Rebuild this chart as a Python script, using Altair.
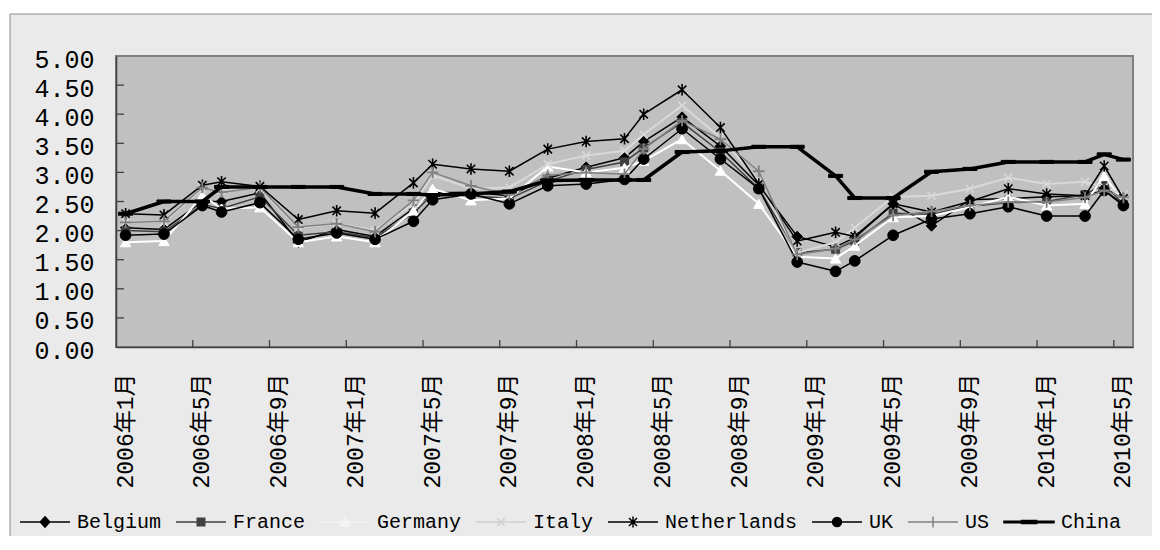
import altair as alt
import pandas as pd

# ---------------- categories (x axis) ----------------
years = [2006, 2007, 2008, 2009, 2010]
months = [f"{y}年{m}月" for y in years for m in range(1, 13)][:53]   # 2006年1月 ... 2010年5月
label_months = months[::4]
tick_months = months[4::4]

# month position (index into `months`) of every observation
obs_index = [0, 2, 4, 5, 7, 9, 11, 13, 15, 16, 18, 20, 22, 24, 26, 27, 29, 31, 33,
             35, 37, 38, 40, 42, 44, 46, 48, 50, 51, 52]

# ---------------- series values ----------------
belgium     = [2.05, 2.02, 2.50, 2.50, 2.65, 1.80, 2.02, 1.90, 2.38, 2.65, 2.66, 2.60, 2.90, 3.09, 3.25,
               3.53, 3.95, 3.45, 2.78, 1.90, 1.72, 1.88, 2.46, 2.08, 2.53, 2.55, 2.58, 2.60, 2.69, 2.45]
france      = [2.00, 1.98, 2.45, 2.38, 2.58, 1.92, 1.98, 1.88, 2.30, 2.62, 2.60, 2.55, 2.85, 3.05, 3.18,
               3.42, 3.86, 3.35, 2.72, 1.62, 1.68, 1.82, 2.30, 2.28, 2.42, 2.48, 2.50, 2.62, 2.80, 2.45]
germany     = [1.80, 1.82, 2.60, 2.38, 2.40, 1.80, 1.90, 1.80, 2.34, 2.72, 2.52, 2.55, 3.10, 3.00, 3.08,
               3.20, 3.57, 3.03, 2.46, 1.55, 1.52, 1.74, 2.23, 2.25, 2.40, 2.58, 2.43, 2.46, 2.94, 2.50]
italy       = [2.15, 2.15, 2.72, 2.70, 2.72, 2.05, 2.12, 2.00, 2.45, 2.95, 2.72, 2.74, 3.14, 3.29, 3.37,
               3.65, 4.15, 3.60, 2.85, 1.62, 1.80, 2.05, 2.58, 2.60, 2.72, 2.91, 2.80, 2.84, 2.75, 2.62]
netherlands = [2.29, 2.27, 2.78, 2.84, 2.76, 2.19, 2.34, 2.30, 2.82, 3.14, 3.06, 3.02, 3.40, 3.53, 3.58,
               4.00, 4.42, 3.77, 2.80, 1.82, 1.97, 1.90, 2.46, 2.32, 2.50, 2.72, 2.63, 2.60, 3.11, 2.55]
uk          = [1.92, 1.94, 2.43, 2.32, 2.48, 1.85, 1.96, 1.85, 2.16, 2.53, 2.63, 2.46, 2.77, 2.80, 2.88,
               3.23, 3.75, 3.23, 2.72, 1.46, 1.30, 1.48, 1.92, 2.20, 2.29, 2.41, 2.25, 2.25, 2.69, 2.43]
us          = [2.14, 2.16, 2.74, 2.66, 2.74, 2.06, 2.12, 1.98, 2.52, 3.00, 2.77, 2.62, 2.95, 3.00, 2.97,
               3.40, 3.89, 3.57, 3.02, 1.59, 1.69, 1.85, 2.26, 2.33, 2.43, 2.49, 2.49, 2.57, 2.69, 2.57]
china       = [2.29, 2.50, 2.50, 2.75, 2.75, 2.75, 2.75, 2.63, 2.63, 2.61, 2.63, 2.67, 2.86, 2.87, 2.87,
               2.87, 3.35, 3.37, 3.44, 3.44, 2.94, 2.56, 2.56, 3.01, 3.06, 3.18, 3.18, 3.18, 3.31, 3.22]

series_names = ["Belgium", "France", "Germany", "Italy", "Netherlands", "UK", "US", "China"]
series_values = [belgium, france, germany, italy, netherlands, uk, us, china]

y_label_values = [0.0, 0.5, 1.0, 1.5, 2.0, 2.5, 3.0, 3.5, 4.0, 4.5, 5.0]
y_tick_values = [0.5, 1.0, 1.5, 2.0, 2.5, 3.0, 3.5, 4.0, 4.5]

# ---------------- styling ----------------
W, H = 1017, 291
NUM_FONT = "Liberation Mono"
CAT_FONT = "Liberation Mono, Noto Sans CJK SC"

P_X = "M-1,-1L1,1M-1,1L1,-1"
P_AST = "M-0.8,-0.8L0.8,0.8M-0.8,0.8L0.8,-0.8M0,-1.1V1.1"
P_PLUS = "M-1,0H1M0,-1V1"
P_DASH = "M-1,-0.22H1V0.22H-1Z"

style = {
    #  name         line colour  line w  shape         size  filled  marker colour  marker stroke w
    "Belgium":     ("#000000", 1.5, "diamond",      110, True,  "#000000", 1),
    "France":      ("#404040", 1.5, "square",        64, True,  "#404040", 1),
    "Germany":     ("#ffffff", 2.0, "triangle-up",  110, True,  "#ffffff", 1),
    "Italy":       ("#d9d9d9", 2.0, P_X,             64, False, "#d9d9d9", 1.5),
    "Netherlands": ("#000000", 1.5, P_AST,          110, False, "#000000", 1.6),
    "UK":          ("#000000", 1.5, "circle",       115, True,  "#000000", 1),
    "US":          ("#808080", 1.5, P_PLUS,         130, False, "#808080", 1.8),
    "China":       ("#000000", 3.5, P_DASH,         196, True,  "#000000", 1),
}

legend_paths = [
    "M-1,0H1M0,-0.21L0.19,0L0,0.21L-0.19,0Z",
    "M-1,0H1M-0.15,-0.15H0.15V0.15H-0.15Z",
    "M-1,0H1M0,-0.2L0.2,0.17H-0.2Z",
    "M-1,0H1M-0.15,-0.15L0.15,0.15M-0.15,0.15L0.15,-0.15",
    "M-1,0H1M-0.16,-0.16L0.16,0.16M-0.16,0.16L0.16,-0.16M0,-0.22V0.22",
    "M-1,0H1M-0.18,0A0.18,0.18,0,1,0,0.18,0A0.18,0.18,0,1,0,-0.18,0Z",
    "M-1,0H1M0,-0.22V0.22",
    "M-1,-0.03H1V0.03H-1ZM-0.3,-0.06H0.3V0.06H-0.3Z",
]
legend_fill = ["#000000", "#404040", "#f4f4f4", "#cfcfcf", "#000000", "#000000", "#808080", "#000000"]
legend_stroke = ["#000000", "#404040", "#f4f4f4", "#cfcfcf", "#000000", "#000000", "#808080", "#000000"]

XSCALE = alt.Scale(type="band", domain=months, paddingInner=0, paddingOuter=0)
YSCALE = alt.Scale(domain=[0, 5], nice=False, zero=True)

XAXIS = alt.Axis(values=label_months, labelAngle=270, labelFont=CAT_FONT, labelFontSize=23,
                 labelColor="#000000", ticks=False, tickSize=0, labelPadding=26,
                 domainColor="#404040", domainWidth=1.5, grid=False, title=None,
                 labelOverlap=False, zindex=1)
YAXIS = alt.Axis(values=y_label_values, format=".2f", labelFont=NUM_FONT, labelFontSize=25,
                 labelColor="#000000", ticks=False, tickSize=0, labelPadding=22,
                 domainColor="#404040", domainWidth=1.5, grid=False, title=None,
                 labelOverlap=False, labelOffset=3, zindex=1)


def xenc(field, band):
    return alt.X(f"{field}:O", scale=XSCALE, axis=XAXIS, bandPosition=band)


def yenc(field):
    return alt.Y(f"{field}:Q", scale=YSCALE, axis=YAXIS)


one = pd.DataFrame({"k": [0]})

frame = alt.Chart(one).mark_rect(fill="#eaeaea", stroke="#8a8a8a", strokeWidth=1).encode(
    x=alt.value(-106), x2=alt.value(1300), y=alt.value(-42), y2=alt.value(700))

plot_bg = alt.Chart(one).mark_rect(fill="#c0c0c0", stroke="#808080", strokeWidth=2).encode(
    x=alt.value(0), x2=alt.value(W), y=alt.value(0), y2=alt.value(H))

ytick_layer = alt.Chart(pd.DataFrame({"v": y_tick_values})).mark_rule(
    color="#404040", strokeWidth=1.3).encode(y=yenc("v"), x=alt.value(0), x2=alt.value(8))

xtick_layer = alt.Chart(pd.DataFrame({"m": tick_months})).mark_rule(
    color="#404040", strokeWidth=1.3).encode(x=xenc("m", 0), y=alt.value(H - 7), y2=alt.value(H))

layers = [frame, plot_bg, ytick_layer, xtick_layer]

for name, vals in zip(series_names, series_values):
    lc, lw, shp, sz, filled, mc, msw = style[name]
    df = pd.DataFrame({"month": [months[i] for i in obs_index], "value": vals})
    base = alt.Chart(df)
    layers.append(base.mark_line(color=lc, strokeWidth=lw, strokeJoin="round").encode(
        x=xenc("month", 0.5), y=yenc("value")))
    if filled:
        pm = base.mark_point(shape=shp, size=sz, filled=True, fill=mc, stroke=mc,
                             strokeWidth=msw, opacity=1)
    else:
        pm = base.mark_point(shape=shp, size=sz, filled=False, stroke=mc,
                             strokeWidth=msw, opacity=1)
    layers.append(pm.encode(x=xenc("month", 0.5), y=yenc("value")))

LEG = alt.Legend(orient="none", legendX=-97, legendY=440, direction="horizontal", columns=8,
                 title=None, symbolSize=2500, symbolStrokeWidth=1.5, labelFont=NUM_FONT,
                 labelFontSize=20, labelColor="#000000", labelOffset=6, columnPadding=11,
                 padding=0, labelLimit=400, symbolOpacity=1)

legend_layer = alt.Chart(pd.DataFrame({"series": series_names})).transform_filter(
    "false").mark_point(filled=True, opacity=1).encode(
    shape=alt.Shape("series:N", scale=alt.Scale(domain=series_names, range=legend_paths), legend=LEG),
    fill=alt.Fill("series:N", scale=alt.Scale(domain=series_names, range=legend_fill), legend=LEG),
    stroke=alt.Stroke("series:N", scale=alt.Scale(domain=series_names, range=legend_stroke), legend=LEG),
)
layers.append(legend_layer)

chart = alt.layer(*layers).properties(
    width=W, height=H,
    padding={"left": 108, "top": 48, "right": 19, "bottom": 189},
    autosize=alt.AutoSizeParams(type="none"),
    background="white",
).configure_view(stroke=None)

chart.save("out.html", embed_options={"renderer": "svg", "actions": False})
